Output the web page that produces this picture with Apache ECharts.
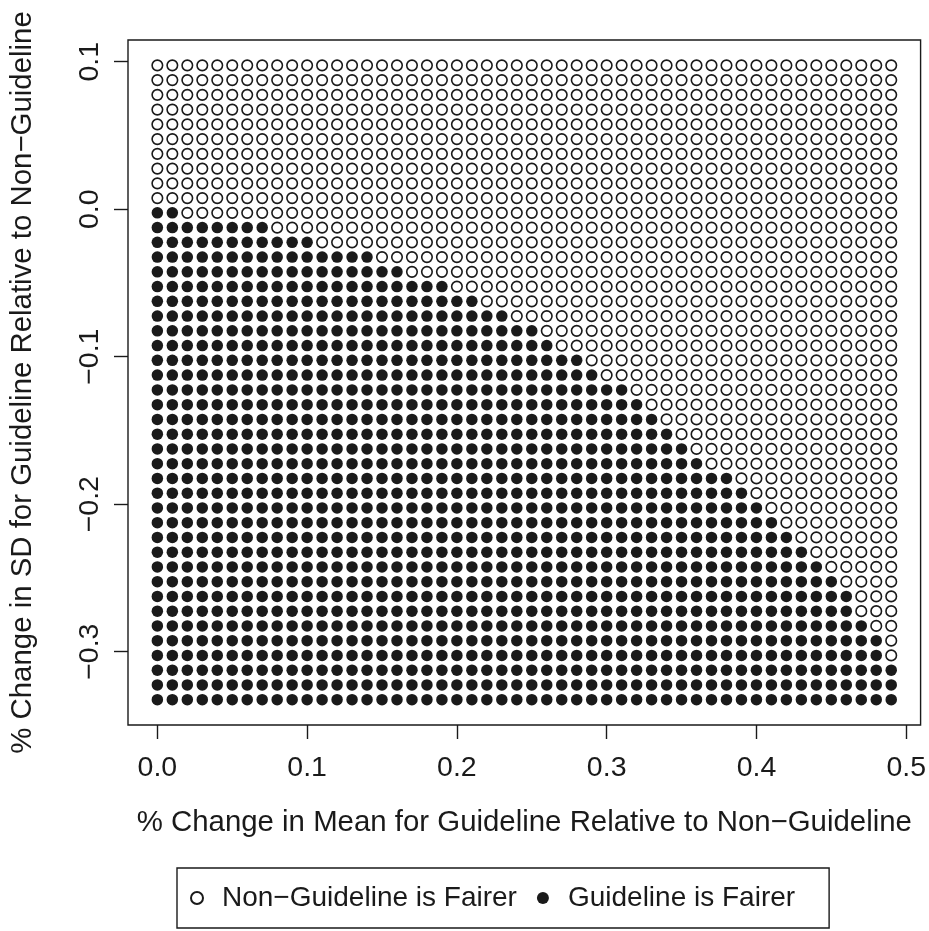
<!DOCTYPE html>
<html>
<head>
<meta charset="utf-8">
<script src="https://cdn.jsdelivr.net/npm/echarts@6/dist/echarts.min.js"></script>
<style>
  html, body { margin: 0; padding: 0; background: #ffffff; }
  #chart { width: 929px; height: 931px; }
</style>
</head>
<body>
<div id="chart"></div>
<script>
// Grid of % change in mean (columns) and % change in SD (rows)
const meanChange = [
  0.00, 0.01, 0.02, 0.03, 0.04, 0.05, 0.06, 0.07, 0.08, 0.09,
  0.10, 0.11, 0.12, 0.13, 0.14, 0.15, 0.16, 0.17, 0.18, 0.19,
  0.20, 0.21, 0.22, 0.23, 0.24, 0.25, 0.26, 0.27, 0.28, 0.29,
  0.30, 0.31, 0.32, 0.33, 0.34, 0.35, 0.36, 0.37, 0.38, 0.39,
  0.40, 0.41, 0.42, 0.43, 0.44, 0.45, 0.46, 0.47, 0.48, 0.49
];
const sdChange = [
  0.0975, 0.0875, 0.0775, 0.0675, 0.0575, 0.0475, 0.0375, 0.0275, 0.0175, 0.0075,
  -0.0025, -0.0125, -0.0225, -0.0325, -0.0425, -0.0525, -0.0625, -0.0725, -0.0825, -0.0925,
  -0.1025, -0.1125, -0.1225, -0.1325, -0.1425, -0.1525, -0.1625, -0.1725, -0.1825, -0.1925,
  -0.2025, -0.2125, -0.2225, -0.2325, -0.2425, -0.2525, -0.2625, -0.2725, -0.2825, -0.2925,
  -0.3025, -0.3125, -0.3225, -0.3325
];
// For each SD row (top to bottom): how many of the leftmost mean columns favour the guideline
const guidelineFairerCount = [
  0, 0, 0, 0, 0, 0, 0, 0, 0, 0,
  2, 8, 11, 15, 17, 20, 22, 24, 26, 27,
  29, 30, 32, 33, 34, 35, 36, 37, 39, 40,
  41, 42, 43, 44, 45, 46, 47, 47, 48, 49,
  49, 50, 50, 50
];
const xTicks = [0, 0.1, 0.2, 0.3, 0.4, 0.5];
const yTicks = [-0.3, -0.2, -0.1, 0, 0.1];
const legendNames = ['Non\u2212Guideline is Fairer', 'Guideline is Fairer'];

const nonGuidelinePts = [];
const guidelinePts = [];
sdChange.forEach((sd, r) => {
  meanChange.forEach((m, c) => {
    if (c < guidelineFairerCount[r]) guidelinePts.push([m, sd]);
    else nonGuidelinePts.push([m, sd]);
  });
});

const ink = '#1a1a1a';
const font = "'Liberation Sans', Arial, Helvetica, sans-serif";
const fmt = v => v.toFixed(1).replace('-', '\u2212');

const chart = echarts.init(document.getElementById('chart'), null, { renderer: 'canvas' });
chart.setOption({
  animation: false,
  backgroundColor: '#ffffff',
  textStyle: { fontFamily: font },
  grid: {
    left: 127, right: 5, top: 40, bottom: 206,
    show: true, borderColor: ink, borderWidth: 1.4, backgroundColor: 'transparent'
  },
  xAxis: {
    type: 'value',
    min: -0.0196, max: 0.5096,
    axisLine: { show: false, onZero: false },
    splitLine: { show: false },
    axisTick: { show: true, inside: false, length: 14, customValues: xTicks, lineStyle: { color: ink, width: 1.4 } },
    axisLabel: { customValues: xTicks, formatter: fmt, margin: 29, color: ink, fontSize: 28.5, fontFamily: font },
    name: '% Change in Mean for Guideline Relative to Non\u2212Guideline',
    nameLocation: 'middle', nameGap: 83,
    nameTextStyle: { fontSize: 29.4, color: ink, fontFamily: font }
  },
  yAxis: {
    type: 'value',
    min: -0.3497, max: 0.1147,
    axisLine: { show: false, onZero: false },
    splitLine: { show: false },
    axisTick: { show: true, inside: false, length: 14, customValues: yTicks, lineStyle: { color: ink, width: 1.4 } },
    axisLabel: { customValues: yTicks, formatter: fmt, rotate: 90, margin: 23, color: ink, fontSize: 28.5, fontFamily: font },
    name: '% Change in SD for Guideline Relative to Non\u2212Guideline',
    nameLocation: 'middle', nameGap: 91,
    nameTextStyle: { fontSize: 29.4, color: ink, fontFamily: font }
  },
  legend: {
    data: legendNames,
    left: 177, top: 868,
    orient: 'horizontal',
    itemWidth: 40, itemHeight: 12, itemGap: 20,
    padding: [16, 34, 16, 13],
    borderColor: ink, borderWidth: 1.4,
    textStyle: { fontSize: 28, color: ink, fontFamily: font },
    selectedMode: false
  },
  series: [
    {
      name: legendNames[0],
      type: 'scatter',
      symbol: 'circle',
      symbolSize: 10.5,
      itemStyle: { color: '#ffffff', borderColor: ink, borderWidth: 1.6, opacity: 1 },
      emphasis: { disabled: true },
      data: nonGuidelinePts
    },
    {
      name: legendNames[1],
      type: 'scatter',
      symbol: 'circle',
      symbolSize: 11.5,
      itemStyle: { color: ink, opacity: 1 },
      emphasis: { disabled: true },
      data: guidelinePts
    }
  ]
});
</script>
</body>
</html>
